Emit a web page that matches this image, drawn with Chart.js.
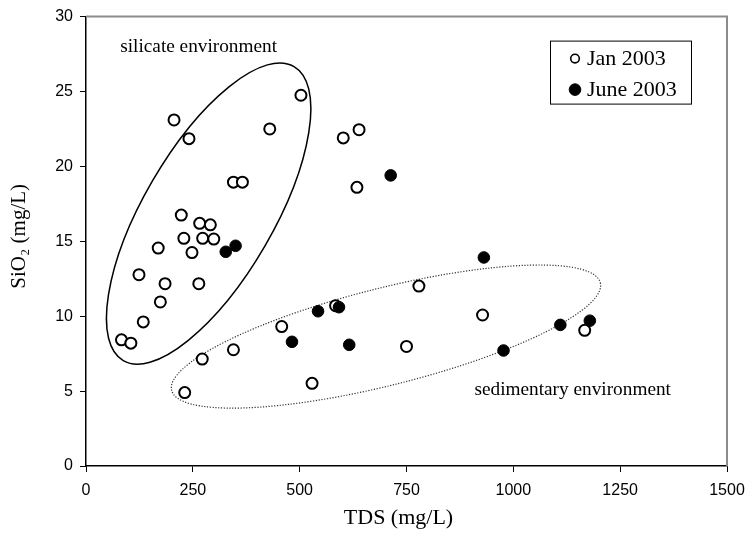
<!DOCTYPE html>
<html>
<head>
<meta charset="utf-8">
<script src="https://cdn.jsdelivr.net/npm/chart.js@4/dist/chart.umd.min.js"></script>
<style>
    body { margin: 0; background: #fff; }
    #wrap { width: 748px; height: 533px; position: relative; }
</style>
</head>
<body>
<div id="wrap"><canvas id="chart"></canvas></div>
<script>
// TDS (mg/L) and SiO2 (mg/L)
const janTds = [206, 241, 430, 503, 602, 639, 634, 345, 366, 223, 266, 291, 229, 273, 299, 169, 248,
                124, 185, 264, 174, 134, 83, 105, 272, 345, 231, 458, 529, 584, 750, 779, 928, 1167];
const janSio2 = [23.1, 21.85, 22.5, 24.75, 21.9, 22.45, 18.6, 18.95, 18.95, 16.75, 16.2, 16.1, 15.2, 15.2, 15.15, 14.55, 14.25,
                 12.77, 12.17, 12.17, 10.95, 9.62, 8.42, 8.2, 7.14, 7.76, 4.9, 9.31, 5.52, 10.7, 7.98, 12.01, 10.08, 9.06];
const juneTds = [713, 327, 350, 482, 543, 592, 616, 931, 1110, 1179, 977];
const juneSio2 = [19.4, 14.3, 14.7, 8.29, 10.33, 10.6, 8.09, 13.92, 9.42, 9.7, 7.71];

const seriesLabels = ['Jan 2003', 'June 2003'];
const xTicks = [0, 250, 500, 750, 1000, 1250, 1500];
const yTicks = [0, 5, 10, 15, 20, 25, 30];
const xTitle = 'TDS (mg/L)';
const yTitle = 'SiO₂ (mg/L)';

const SERIF = '"Liberation Serif", "Times New Roman", serif';
const SANS = '"Liberation Sans", Arial, sans-serif';

// grouping ellipses: centre in data units, semi-axes in px, tilt in degrees
const regions = [
    { cx: 287, cy: 16.85, a: 170, b: 65, tilt: 59.85, dash: [], width: 1.5, color: '#000' },
    { cx: 702, cy: 8.64, a: 221, b: 48.6, tilt: 14.1, dash: [1.2, 1.6], width: 1.2, color: '#333' }
];
const notes = [
    { text: 'silicate environment', x: 80, y: 28.0 },
    { text: 'sedimentary environment', x: 909, y: 5.05 }
];

const toPoints = (xs, ys) => xs.map((x, i) => ({ x: x, y: ys[i] }));

// ellipses, notes, frame, axis titles and legend
const decorations = {
    id: 'decorations',
    beforeDatasetsDraw(chart) {
        const ctx = chart.ctx;
        const xs = chart.scales.x, ys = chart.scales.y;
        const area = chart.chartArea;
        ctx.save();
        // gray top/right frame
        ctx.strokeStyle = '#8c8c8c';
        ctx.lineWidth = 2;
        ctx.beginPath();
        ctx.moveTo(area.left, area.top);
        ctx.lineTo(area.right, area.top);
        ctx.lineTo(area.right, area.bottom);
        ctx.stroke();

        regions.forEach(r => {
            ctx.beginPath();
            ctx.setLineDash(r.dash);
            ctx.lineWidth = r.width;
            ctx.strokeStyle = r.color;
            ctx.ellipse(xs.getPixelForValue(r.cx), ys.getPixelForValue(r.cy), r.a, r.b,
                -r.tilt * Math.PI / 180, 0, Math.PI * 2);
            ctx.stroke();
        });
        ctx.setLineDash([]);

        ctx.fillStyle = '#000';
        ctx.font = '19.3px ' + SERIF;
        ctx.textAlign = 'left';
        ctx.textBaseline = 'middle';
        notes.forEach(n => {
            ctx.fillText(n.text, xs.getPixelForValue(n.x), ys.getPixelForValue(n.y));
        });

        // axis titles (the original sits a little off the axis centres)
        ctx.font = '22px ' + SERIF;
        ctx.textAlign = 'center';
        ctx.fillText(xTitle, (area.left + area.right) / 2 - 8, area.bottom + 52);
        ctx.translate(19, (area.top + area.bottom) / 2 - 5);
        ctx.rotate(-Math.PI / 2);
        ctx.font = '21px ' + SERIF;
        ctx.fillText(yTitle, 0, 0);
        ctx.restore();
    },
    afterDraw(chart) {
        const ctx = chart.ctx;
        const area = chart.chartArea;
        const boxW = 141, boxH = 63;
        const left = area.right - 36 - boxW;
        const top = area.top + 24;
        ctx.save();
        ctx.fillStyle = '#fff';
        ctx.fillRect(left, top, boxW, boxH);
        ctx.strokeStyle = '#000';
        ctx.lineWidth = 1;
        ctx.strokeRect(left + 0.5, top + 0.5, boxW, boxH);
        ctx.font = '22px ' + SERIF;
        ctx.textAlign = 'left';
        ctx.textBaseline = 'middle';
        chart.data.datasets.forEach((ds, i) => {
            const y = top + 18 + i * 31;
            ctx.beginPath();
            ctx.arc(left + 25, y, i === 0 ? 4.3 : 5.8, 0, Math.PI * 2);
            ctx.fillStyle = ds.backgroundColor;
            ctx.fill();
            ctx.lineWidth = i === 0 ? 1.6 : 1;
            ctx.strokeStyle = ds.borderColor;
            ctx.stroke();
            ctx.fillStyle = '#000';
            ctx.fillText(ds.label, left + 37, y + 1);
        });
        ctx.restore();
    }
};

const axisCommon = {
    type: 'linear',
    border: { display: true, color: '#000', width: 1.5 },
    grid: { drawOnChartArea: false, drawTicks: true, tickLength: 6, color: '#000', lineWidth: 1 }
};

new Chart(document.getElementById('chart'), {
    type: 'scatter',
    data: {
        datasets: [
            {
                label: seriesLabels[0],
                data: toPoints(janTds, janSio2),
                backgroundColor: '#fff',
                borderColor: '#000',
                borderWidth: 2,
                pointRadius: 5.5,
                order: 1
            },
            {
                label: seriesLabels[1],
                data: toPoints(juneTds, juneSio2),
                backgroundColor: '#000',
                borderColor: '#000',
                borderWidth: 1,
                pointRadius: 5.8,
                order: 0
            }
        ]
    },
    options: {
        responsive: true,
        maintainAspectRatio: false,
        animation: false,
        layout: { padding: { top: 15, right: 21, left: 0, bottom: 0 } },
        plugins: {
            legend: { display: false },
            tooltip: { enabled: false }
        },
        scales: {
            x: {
                ...axisCommon,
                position: 'bottom',
                min: 0,
                max: 1500,
                afterBuildTicks: (scale) => { scale.ticks = xTicks.map(v => ({ value: v })); },
                afterFit: (scale) => {
                    scale.height = 67;
                    scale.paddingLeft = 0;
                    scale.paddingRight = 0;
                },
                ticks: {
                    color: '#000', padding: 9, maxRotation: 0,
                    font: { family: SANS, size: 16 },
                    callback: (v) => String(v)
                },
                title: { display: false }
            },
            y: {
                ...axisCommon,
                position: 'left',
                min: 0,
                max: 30,
                afterBuildTicks: (scale) => { scale.ticks = yTicks.map(v => ({ value: v })); },
                afterFit: (scale) => { scale.width = 86; },
                ticks: {
                    color: '#000', padding: 7,
                    font: { family: SANS, size: 16 },
                    callback: (v) => String(v)
                },
                title: { display: false }
            }
        }
    },
    plugins: [decorations]
});
</script>
</body>
</html>
